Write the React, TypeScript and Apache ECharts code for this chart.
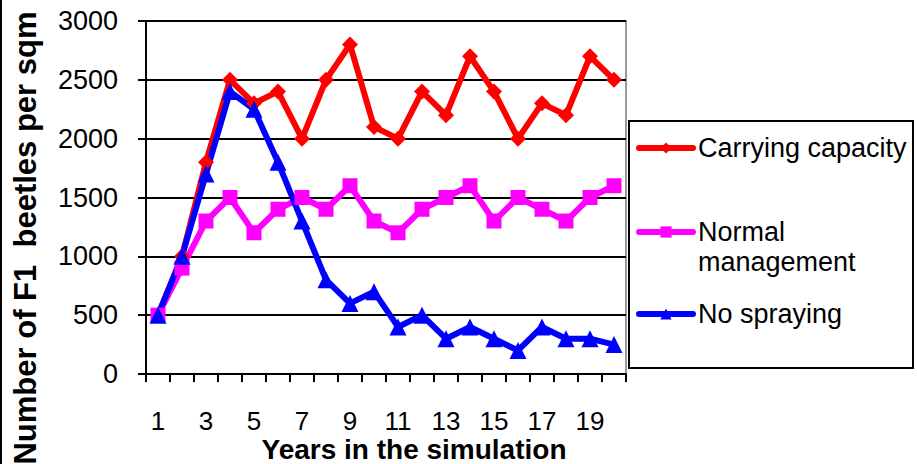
import React, { useEffect, useRef } from "react";
import * as echarts from "echarts";

const years = ["1","2","3","4","5","6","7","8","9","10","11","12","13","14","15","16","17","18","19","20"];
const carryingCapacity = [500,1000,1800,2500,2300,2400,2000,2500,2800,2100,2000,2400,2200,2700,2400,2000,2300,2200,2700,2500];
const normalManagement = [500,900,1300,1500,1200,1400,1500,1400,1600,1300,1200,1400,1500,1600,1300,1500,1400,1300,1500,1600];
const noSpraying = [500,1000,1700,2400,2250,1800,1300,800,600,700,400,500,300,400,300,200,400,300,300,250];
const yTicks = { min: 0, max: 3000, interval: 500 };
const seriesNames = ["Carrying capacity", "Normal management", "No spraying"];
const xTitle = "Years in the simulation";
const yTitle = "Number of F1  beetles per sqm";

const FONT = "'Liberation Sans', Arial, sans-serif";

export default function App() {
  const ref = useRef<HTMLDivElement>(null);
  useEffect(() => {
    if (!ref.current) return;
    const chart = echarts.init(ref.current, undefined, { renderer: "svg" });
    const legendBase = {
      orient: "vertical" as const,
      left: 636,
      padding: 0,
      itemWidth: 54,
      itemHeight: 14,
      itemGap: 5,
      textStyle: { fontFamily: FONT, fontSize: 27, color: "#000", lineHeight: 30 },
      lineStyle: { width: 6, cap: "round" },
      selectedMode: false,
    };
    chart.setOption({
      animation: false,
      backgroundColor: "#fff",
      grid: {
        left: 146,
        right: 291,
        top: 21,
        bottom: 90,
        show: true,
        borderColor: "#999",
        borderWidth: 2,
        backgroundColor: "transparent",
      },
      legend: [
        { ...legendBase, top: 133, data: [seriesNames[0]] },
        {
          ...legendBase,
          top: 187,
          data: [seriesNames[1]],
          formatter: () => " \nNormal\nmanagement",
        },
        { ...legendBase, top: 299, data: [seriesNames[2]] },
      ],
      xAxis: {
        type: "category",
        data: years,
        boundaryGap: true,
        axisLine: { lineStyle: { color: "#000", width: 2 } },
        axisTick: { show: true, interval: 0, length: 8, lineStyle: { color: "#000", width: 2 } },
        axisLabel: { interval: 1, fontFamily: FONT, fontSize: 26, color: "#000", margin: 34 },
        splitLine: { show: false },
      },
      yAxis: {
        type: "value",
        min: yTicks.min,
        max: yTicks.max,
        interval: yTicks.interval,
        axisLine: { show: true, lineStyle: { color: "#000", width: 2 } },
        axisTick: { show: true, length: 8, lineStyle: { color: "#000", width: 2 } },
        axisLabel: {
          fontFamily: FONT,
          fontSize: 27,
          color: "#000",
          margin: 28,
          formatter: (v: number) => String(v),
        },
        splitLine: { show: true, lineStyle: { color: "#000", width: 2 } },
      },
      series: [
        {
          name: seriesNames[0],
          type: "line",
          data: carryingCapacity,
          symbol: "diamond",
          symbolSize: 16,
          showAllSymbol: true,
          lineStyle: { color: "#ff0000", width: 6 },
          itemStyle: { color: "#ff0000" },
        },
        {
          name: seriesNames[1],
          type: "line",
          data: normalManagement,
          symbol: "rect",
          symbolSize: 15,
          showAllSymbol: true,
          lineStyle: { color: "#ff00ff", width: 6 },
          itemStyle: { color: "#ff00ff" },
        },
        {
          name: seriesNames[2],
          type: "line",
          data: noSpraying,
          symbol: "triangle",
          symbolSize: 17,
          showAllSymbol: true,
          lineStyle: { color: "#0000ff", width: 6 },
          itemStyle: { color: "#0000ff" },
        },
      ],
      graphic: [
        {
          type: "rect",
          shape: { x: 629, y: 121, width: 284, height: 247 },
          style: { fill: "none", stroke: "#000", lineWidth: 2 },
          z: -1,
        },
        {
          type: "line",
          shape: { x1: 1, y1: 0, x2: 1, y2: 464 },
          style: { stroke: "#000", lineWidth: 2 },
        },
        {
          type: "text",
          x: 414,
          y: 449,
          style: {
            text: xTitle,
            font: `bold 28px ${FONT}`,
            fill: "#000",
            align: "center",
            verticalAlign: "middle",
            textAlign: "center",
            textVerticalAlign: "middle",
          },
        },
        {
          type: "text",
          x: 25,
          y: 238,
          rotation: Math.PI / 2,
          style: {
            text: yTitle,
            font: `bold 31px ${FONT}`,
            fill: "#000",
            align: "center",
            verticalAlign: "middle",
            textAlign: "center",
            textVerticalAlign: "middle",
          },
        },
      ],
    });
    return () => chart.dispose();
  }, []);
  return (
    <div
      ref={ref}
      style={{ position: "fixed", left: 0, top: 0, width: 917, height: 464 }}
    />
  );
}
